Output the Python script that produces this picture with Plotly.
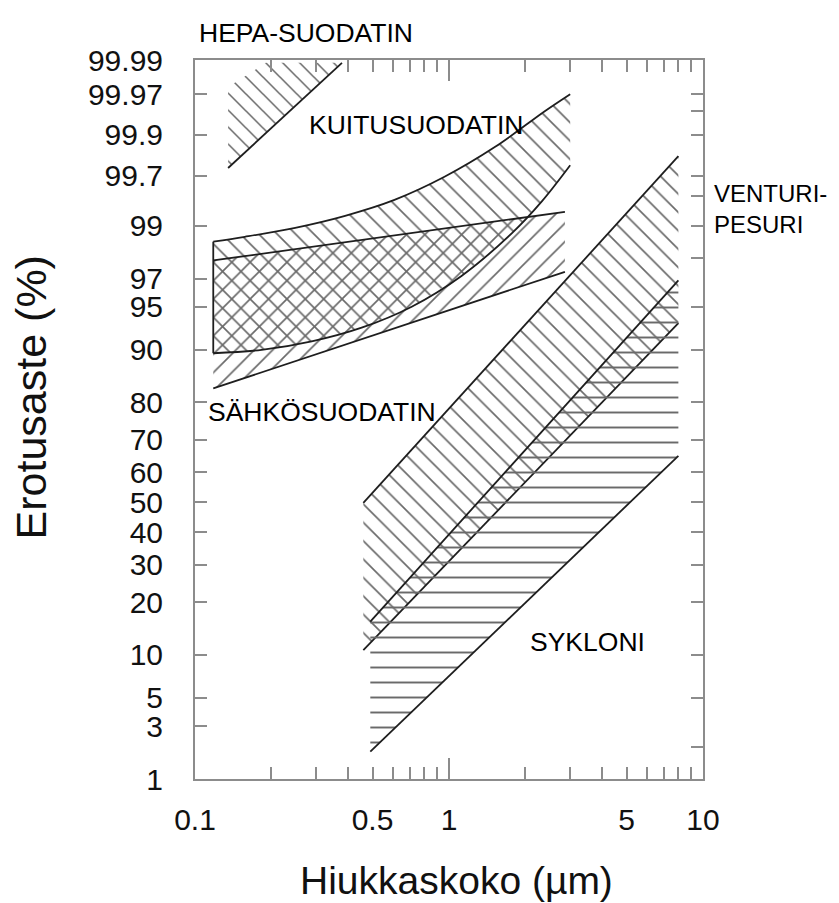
import plotly.graph_objects as go
from statistics import NormalDist

# ---------------- data (particle size in µm, efficiency in %) ----------------
hepa_x = [0.135, 0.379, 0.19, 0.135]
hepa_y = [99.753, 99.989, 99.989, 99.976]
hepa_line_x = [0.135, 0.379]
hepa_line_y = [99.753, 99.989]

kuitu_upper_x = [0.118, 0.157, 0.248, 0.39, 0.61, 0.96, 1.52, 2.39, 3.0]
kuitu_upper_y = [98.58, 98.72, 98.95, 99.20, 99.45, 99.69, 99.86, 99.95, 99.97]
kuitu_lower_x = [0.118, 0.183, 0.288, 0.453, 0.713, 1.12, 1.77, 2.32, 3.0]
kuitu_lower_y = [89.5, 90.0, 91.2, 92.9, 95.0, 97.15, 98.82, 99.43, 99.77]

esp_x = [0.118, 2.86]
esp_upper_y = [97.9, 99.27]
esp_lower_y = [83.1, 97.37]

venturi_x = [0.46, 8.0]
venturi_upper_y = [49.8, 99.82]
venturi_lower_y = [10.7, 93.4]

sykloni_x = [0.49, 8.0]
sykloni_upper_y = [15.8, 96.9]
sykloni_lower_y = [1.8, 65.2]

y_left_ticks = [1, 3, 5, 10, 20, 30, 40, 50, 60, 70, 80, 90, 95, 97, 99, 99.7, 99.9, 99.97, 99.99]
y_left_labels = ["1", "3", "5", "10", "20", "30", "40", "50", "60", "70", "80", "90",
                 "95", "97", "99", "99.7", "99.9", "99.97", "99.99"]
y_right_ticks = [2, 5, 10, 20, 30, 40, 50, 60, 70, 80, 90, 95, 98, 99, 99.5, 99.7, 99.9, 99.95, 99.97]
x_ticks = [0.1, 0.2, 0.3, 0.4, 0.5, 0.6, 0.7, 0.8, 0.9, 1, 2, 3, 4, 5, 6, 7, 8, 9, 10]
x_labels = ["0.1", "", "", "", "0.5", "", "", "", "", "1", "", "", "", "5", "", "", "", "", "10"]
x_major = [1]

# ---------------- helpers ----------------
nd = NormalDist()


def z(p):
    return nd.inv_cdf(p / 100.0)


def zs(lst):
    return [z(p) for p in lst]


FONT = "Liberation Sans, Arial, Helvetica, sans-serif"
LINE = dict(color="#1e1e1e", width=1.8)
HATCH = "#6a6a6a"
CLEAR = "rgba(0,0,0,0)"

fig = go.Figure()


def hatched(xs, ys, shape, size):
    fig.add_trace(go.Scatter(
        x=xs, y=zs(ys), mode="lines", fill="toself", fillcolor=CLEAR,
        line=dict(width=0, color=CLEAR),
        fillpattern=dict(shape=shape, size=size, solidity=0.13, fgcolor=HATCH,
                         bgcolor=CLEAR, fgopacity=1),
        hoverinfo="skip", showlegend=False))


def line(xs, ys, shape="linear"):
    fig.add_trace(go.Scatter(x=xs, y=zs(ys), mode="lines",
                             line=dict(color=LINE["color"], width=LINE["width"], shape=shape),
                             hoverinfo="skip", showlegend=False))


# HEPA
hatched(hepa_x, hepa_y, "\\", 12)
line(hepa_line_x, hepa_line_y)

# Kuitusuodatin (fabric filter) band
hatched(kuitu_upper_x + kuitu_lower_x[::-1], kuitu_upper_y + kuitu_lower_y[::-1], "\\", 13)
# Sähkösuodatin (ESP) band
hatched(esp_x + esp_x[::-1], esp_upper_y + esp_lower_y[::-1], "/", 13)
line(kuitu_upper_x, kuitu_upper_y, "spline")
line(kuitu_lower_x, kuitu_lower_y, "spline")
line([kuitu_upper_x[0], kuitu_lower_x[0]], [kuitu_upper_y[0], kuitu_lower_y[0]])
line(esp_x, esp_upper_y)
line(esp_x, esp_lower_y)

# Venturipesuri
hatched(venturi_x + venturi_x[::-1], venturi_upper_y + venturi_lower_y[::-1], "\\", 13)
line(venturi_x, venturi_upper_y)
line(venturi_x, venturi_lower_y)

# Sykloni
hatched(sykloni_x + sykloni_x[::-1], sykloni_upper_y + sykloni_lower_y[::-1], "-", 15)
line(sykloni_x, sykloni_upper_y)
line(sykloni_x, sykloni_lower_y)

# invisible trace for the secondary (tick-only) axes
fig.add_trace(go.Scatter(x=[None], y=[None], xaxis="x2", yaxis="y2",
                         mode="lines", showlegend=False, hoverinfo="skip"))

yr = [z(1), z(99.99)]
AX = "#8c8c8c"

fig.update_layout(
    width=831, height=895, autosize=False,
    margin=dict(l=187, r=136, t=52, b=124),
    paper_bgcolor="white", plot_bgcolor="white",
    font=dict(family=FONT, color="#111111"),
    xaxis=dict(type="log", range=[-1, 1], tickvals=x_ticks, ticktext=x_labels,
               ticks="inside", ticklen=12, tickwidth=1.5, tickcolor=AX,
               showline=True, linecolor=AX, linewidth=2, mirror="ticks",
               showgrid=False, zeroline=False, tickfont=dict(size=30, color="#111"),
               ticklabelstandoff=13),
    xaxis2=dict(type="log", range=[-1, 1], overlaying="x", side="bottom",
                tickvals=x_major, ticks="inside", ticklen=21, tickwidth=1.5, tickcolor=AX,
                showticklabels=False, showline=False, mirror="ticks", showgrid=False,
                zeroline=False),
    yaxis=dict(range=yr, tickvals=zs(y_left_ticks), ticktext=y_left_labels,
               ticks="inside", ticklen=12, tickwidth=1.5, tickcolor=AX,
               showline=True, linecolor=AX, linewidth=2, mirror=True,
               showgrid=False, zeroline=False, tickfont=dict(size=30, color="#111"),
               ticklabelstandoff=24),
    yaxis2=dict(range=yr, overlaying="y", side="right", tickvals=zs(y_right_ticks),
                ticks="inside", ticklen=12, tickwidth=1.5, tickcolor=AX,
                showticklabels=False, showline=False, showgrid=False, zeroline=False),
)

TXT = dict(family=FONT, size=26.5, color="#000000")
TXT_V = dict(family=FONT, size=24, color="#000000")
fig.add_annotation(x=0.2185, y=1.0375, xref="paper", yref="paper", text="HEPA-SUODATIN",
                   showarrow=False, font=TXT, xanchor="center", yanchor="middle")
fig.add_annotation(x=-0.130, y=3.172, xref="x", yref="y", text="KUITUSUODATIN",
                   showarrow=False, font=TXT, xanchor="center", yanchor="middle")
fig.add_annotation(x=-0.5, y=0.759, xref="x", yref="y", text="SÄHKÖSUODATIN",
                   showarrow=False, font=TXT, xanchor="center", yanchor="middle")
fig.add_annotation(x=1.0177, y=0.7928, xref="paper", yref="paper", text="VENTURI-<br>PESURI",
                   showarrow=False, font=TXT_V, xanchor="left", yanchor="middle", align="left")
fig.add_annotation(x=0.547, y=-1.175, xref="x", yref="y", text="SYKLONI",
                   showarrow=False, font=TXT, xanchor="center", yanchor="middle")

# axis titles
fig.add_annotation(x=-0.321, y=0.5306, xref="paper", yref="paper", text="Erotusaste (%)",
                   textangle=-90, showarrow=False, font=dict(family=FONT, size=43, color="#111"),
                   xanchor="center", yanchor="middle")
fig.add_annotation(x=0.5148, y=-0.141, xref="paper", yref="paper", text="Hiukkaskoko (µm)",
                   showarrow=False, font=dict(family=FONT, size=39, color="#111"),
                   xanchor="center", yanchor="middle")

fig.write_html("out.html")
